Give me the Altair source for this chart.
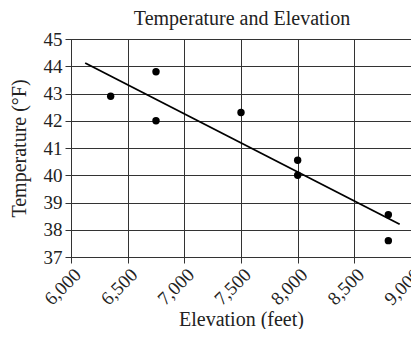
import altair as alt
import pandas as pd

elevation = [6350, 6750, 6750, 7500, 8000, 8000, 8800, 8800]
temperature = [42.9, 43.8, 42.0, 42.3, 40.55, 40.0, 38.55, 37.6]

fit_elev = [6125, 8900]
fit_temp = [44.12, 38.2]

x_ticks = [6000, 6500, 7000, 7500, 8000, 8500, 9000]
y_ticks = [37, 38, 39, 40, 41, 42, 43, 44, 45]

title_text = ["Temperature and Elevation"]

pts = pd.DataFrame({"Elevation": elevation, "Temperature": temperature})
fit = pd.DataFrame({"Elevation": fit_elev, "Temperature": fit_temp})
ttl = pd.DataFrame({"t": title_text})

FONT = "Liberation Serif"

x = alt.X("Elevation:Q", title="Elevation (feet)",
          scale=alt.Scale(domain=[6000, 9000], nice=False, zero=False),
          axis=alt.Axis(values=x_ticks, format=",d", labelAngle=-45,
                        labelAlign="right", labelBaseline="top",
                        labelPadding=2, titlePadding=1))
y = alt.Y("Temperature:Q", title="Temperature (°F)",
          scale=alt.Scale(domain=[37, 45], nice=False, zero=False),
          axis=alt.Axis(values=y_ticks, titlePadding=14, labelPadding=3))

points = alt.Chart(pts).mark_circle(size=55, color="black", opacity=1).encode(x=x, y=y)
line = alt.Chart(fit).mark_line(color="black", strokeWidth=1.8).encode(x=x, y=y)
title = alt.Chart(ttl).mark_text(font=FONT, fontSize=20, color="#222",
                                 align="center", baseline="alphabetic").encode(
    text="t:N", x=alt.value(171), y=alt.value(-14))

chart = (line + points + title).properties(
    width=340, height=218,
    autosize=alt.AutoSizeParams(type="none"),
    padding={"left": 63, "top": 31, "right": 0, "bottom": 72},
).configure_axis(
    labelFont=FONT, titleFont=FONT, labelFontSize=19, titleFontSize=20,
    titleFontWeight="normal", labelColor="#222", titleColor="#222",
    gridColor="#333", gridOpacity=1, gridWidth=1,
    domainColor="#333", tickColor="#333", tickSize=6,
    labelOverlap=False, labelFlush=False,
).configure_view(stroke="#333", strokeWidth=1)

chart.save("out.html", embed_options={"renderer": "svg", "actions": False})
